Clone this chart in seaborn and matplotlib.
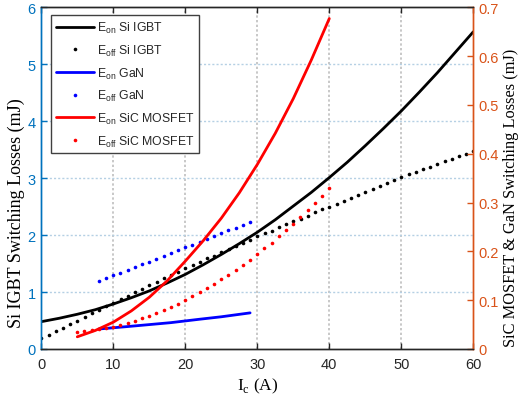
import numpy as np
import pandas as pd
import matplotlib
matplotlib.use("Agg")
import matplotlib.pyplot as plt
import seaborn as sns

# ---------------- data ----------------
# Si IGBT E_on (left axis, mJ)
igbt_on_x = [0, 2.5, 5, 7.5, 10, 12.5, 15, 17.5, 20, 22.5, 25, 27.5, 30, 32.5, 35, 37.5,
             40, 42.5, 45, 47.5, 50, 52.5, 55, 57.5, 60]
igbt_on_y = [0.48, 0.54, 0.61, 0.69, 0.79, 0.90, 1.02, 1.16, 1.31, 1.48, 1.66, 1.85,
             2.05, 2.27, 2.51, 2.75, 3.01, 3.28, 3.57, 3.87, 4.18, 4.51, 4.85, 5.21, 5.57]

# Si IGBT E_off (left axis, mJ), one point per ampere 0..60
igbt_off_x = list(range(0, 61))
igbt_off_y = [0.19, 0.25, 0.31, 0.37, 0.44, 0.50, 0.56, 0.63, 0.69, 0.75,
              0.81, 0.87, 0.93, 1.00, 1.06, 1.12, 1.18, 1.24, 1.30, 1.36,
              1.42, 1.48, 1.53, 1.59, 1.64, 1.70, 1.76, 1.81, 1.87, 1.92,
              1.98, 2.03, 2.08, 2.14, 2.19, 2.24, 2.29, 2.34, 2.40, 2.45,
              2.50, 2.55, 2.60, 2.66, 2.71, 2.76, 2.81, 2.86, 2.92, 2.97,
              3.02, 3.07, 3.11, 3.16, 3.20, 3.25, 3.30, 3.34, 3.39, 3.43,
              3.48]

# GaN E_on (right axis, mJ)
gan_on_x = [8, 12, 15, 18, 22, 25, 29]
gan_on_y = [0.041, 0.046, 0.050, 0.054, 0.061, 0.066, 0.074]

# GaN E_off (right axis, mJ), 8..29 A
gan_off_x = list(range(8, 30))
gan_off_y = [0.139, 0.145, 0.151, 0.156, 0.162, 0.168, 0.174, 0.179, 0.185, 0.191,
             0.197, 0.202, 0.208, 0.214, 0.220, 0.225, 0.231, 0.237, 0.243, 0.248,
             0.254, 0.260]

# SiC MOSFET E_on (right axis, mJ)
sic_on_x = [5, 7.5, 10, 12.5, 15, 17.5, 20, 22.5, 25, 27.5, 30, 32.5, 35, 37.5, 40]
sic_on_y = [0.025, 0.038, 0.055, 0.078, 0.106, 0.140, 0.180, 0.222, 0.268, 0.320,
            0.378, 0.442, 0.513, 0.592, 0.677]

# SiC MOSFET E_off (right axis, mJ), 5..40 A
sic_off_x = list(range(5, 41))
sic_off_y = [0.034, 0.036, 0.038, 0.041, 0.043, 0.046, 0.050, 0.054, 0.058, 0.063,
             0.068, 0.073, 0.079, 0.086, 0.093, 0.100, 0.108, 0.116, 0.125, 0.134,
             0.143, 0.152, 0.162, 0.172, 0.183, 0.194, 0.206, 0.218, 0.231, 0.244,
             0.257, 0.270, 0.285, 0.299, 0.314, 0.329]

x_ticks = [0, 10, 20, 30, 40, 50, 60]
left_ticks = [0, 1, 2, 3, 4, 5, 6]
right_ticks = [0, 0.1, 0.2, 0.3, 0.4, 0.5, 0.6, 0.7]
right_ticklabels = ["0", "0.1", "0.2", "0.3", "0.4", "0.5", "0.6", "0.7"]

labels = [r"$\mathregular{E_{on}}$ Si IGBT", r"$\mathregular{E_{off}}$ Si IGBT",
          r"$\mathregular{E_{on}}$ GaN", r"$\mathregular{E_{off}}$ GaN",
          r"$\mathregular{E_{on}}$ SiC MOSFET", r"$\mathregular{E_{off}}$ SiC MOSFET"]

# ---------------- styling ----------------
sns.set_style("white")
plt.rcParams["font.family"] = ["Liberation Sans", "DejaVu Sans"]
plt.rcParams["mathtext.fontset"] = "custom"
plt.rcParams["mathtext.rm"] = "Liberation Sans"

LEFT_C = "#0072BD"
RIGHT_C = "#D95319"
AX_C = "#262626"

fig = plt.figure(figsize=(5.21, 4.02), dpi=100)
ax = fig.add_axes([41.3 / 521, 1 - 350 / 402, 432 / 521, 341.7 / 402])
ax2 = ax.twinx()

df_igbt_on = pd.DataFrame({"I": igbt_on_x, "E": igbt_on_y})
df_igbt_off = pd.DataFrame({"I": igbt_off_x, "E": igbt_off_y})
df_gan_on = pd.DataFrame({"I": gan_on_x, "E": gan_on_y})
df_gan_off = pd.DataFrame({"I": gan_off_x, "E": gan_off_y})
df_sic_on = pd.DataFrame({"I": sic_on_x, "E": sic_on_y})
df_sic_off = pd.DataFrame({"I": sic_off_x, "E": sic_off_y})

lw = 2.0
ms = 2.6
sns.lineplot(data=df_igbt_on, x="I", y="E", ax=ax, color="black", lw=lw, label=labels[0], legend=False)
sns.lineplot(data=df_igbt_off, x="I", y="E", ax=ax, color="black", linestyle="", marker="o",
             markersize=ms, markeredgewidth=0, label=labels[1], legend=False)
sns.lineplot(data=df_gan_on, x="I", y="E", ax=ax2, color="#0000FF", lw=lw, label=labels[2], legend=False)
sns.lineplot(data=df_gan_off, x="I", y="E", ax=ax2, color="#0000FF", linestyle="", marker="o",
             markersize=ms, markeredgewidth=0, label=labels[3], legend=False)
sns.lineplot(data=df_sic_on, x="I", y="E", ax=ax2, color="#FF0000", lw=lw, label=labels[4], legend=False)
sns.lineplot(data=df_sic_off, x="I", y="E", ax=ax2, color="#FF0000", linestyle="", marker="o",
             markersize=ms, markeredgewidth=0, label=labels[5], legend=False)

ax.set_xlim(0, 60)
ax.set_ylim(0, 6)
ax2.set_ylim(0, 0.7)
ax.set_xticks(x_ticks)
ax.set_yticks(left_ticks)
ax2.set_yticks(right_ticks)
ax2.set_yticklabels(right_ticklabels)

# grid
ax.set_axisbelow(True)
for xv in x_ticks[1:-1]:
    ax.axvline(xv, color="#c8c8c8", lw=1.4, linestyle=(0, (1.2, 1.2)), zorder=0)
for yv in left_ticks[1:-1]:
    ax.axhline(yv, color="#b5d0e4", lw=1.0, linestyle=(0, (1.5, 1.5)), zorder=0)

# spines & ticks
for a in (ax, ax2):
    a.spines["top"].set_color(AX_C)
    a.spines["bottom"].set_color(AX_C)
    a.spines["left"].set_color(LEFT_C)
    a.spines["right"].set_color(RIGHT_C)
    for s in a.spines.values():
        s.set_linewidth(1.0)
        s.set_visible(True)

ax.tick_params(axis="x", direction="in", top=True, bottom=True, colors=AX_C, labelsize=10.5,
               length=4, width=1, pad=6)
ax.tick_params(axis="y", direction="in", left=True, right=False, colors=LEFT_C, labelsize=10.5,
               length=4, width=1, pad=4)
ax2.tick_params(axis="y", direction="in", right=True, left=False, colors=RIGHT_C, labelsize=10.5,
                length=4, width=1, pad=4)

serif = ["Liberation Serif", "DejaVu Serif"]
ax.set_xlabel(r"I$_\mathregular{c}$ (A)", family=serif, fontsize=12.5, color="black", labelpad=3)
ax.set_ylabel("Si IGBT Switching Losses (mJ)", family=serif, fontsize=13.0, color="black")
ax2.set_ylabel("SiC MOSFET & GaN Switching Losses (mJ)", family=serif, fontsize=11.8, color="black")
ax.yaxis.set_label_coords(-0.038, 0.40)
ax2.yaxis.set_label_coords(1.069, 0.445)

h1, l1 = ax.get_legend_handles_labels()
h2, l2 = ax2.get_legend_handles_labels()
leg = ax2.legend(h1 + h2, l1 + l2, loc="upper left", bbox_to_anchor=(0.0225, 0.977),
                 fontsize=8.8, frameon=True, fancybox=False, framealpha=1, edgecolor="#404040",
                 handlelength=3.1, handletextpad=0.25, numpoints=1, labelspacing=0.62,
                 borderpad=0.4, borderaxespad=0)
leg.get_frame().set_linewidth(1.0)

fig.savefig("out.png", dpi=100)
